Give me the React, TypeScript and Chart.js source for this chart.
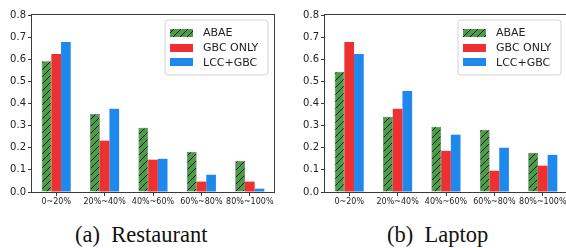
import React, { useEffect, useRef } from 'react';
import { Chart, registerables } from 'chart.js';

Chart.register(...registerables);

const categories = ['0~20%', '20%~40%', '40%~60%', '60%~80%', '80%~100%'];
const seriesLabels = ['ABAE', 'GBC ONLY', 'LCC+GBC'];
const yTickValues = [0, 0.1, 0.2, 0.3, 0.4, 0.5, 0.6, 0.7, 0.8];

const restaurantABAE = [0.591, 0.353, 0.29, 0.182, 0.141];
const restaurantGBC = [0.624, 0.232, 0.146, 0.047, 0.047];
const restaurantLCC = [0.678, 0.376, 0.15, 0.078, 0.015];

const laptopABAE = [0.543, 0.34, 0.295, 0.281, 0.177];
const laptopGBC = [0.678, 0.376, 0.186, 0.096, 0.119];
const laptopLCC = [0.624, 0.457, 0.259, 0.2, 0.168];

const GREEN = '#4a9e48';
const RED = '#ee3030';
const BLUE = '#1f88ec';
const FONT = 'DejaVu Sans';

function makeHatch(): CanvasPattern | string {
  const s = 7;
  const c = document.createElement('canvas');
  c.width = s;
  c.height = s;
  const g = c.getContext('2d');
  if (!g) return GREEN;
  g.fillStyle = GREEN;
  g.fillRect(0, 0, s, s);
  g.strokeStyle = '#111';
  g.lineWidth = 1;
  g.beginPath();
  g.moveTo(0, s);
  g.lineTo(s, 0);
  g.moveTo(-1, 1);
  g.lineTo(1, -1);
  g.moveTo(s - 1, s + 1);
  g.lineTo(s + 1, s - 1);
  g.stroke();
  return g.createPattern(c, 'repeat') || GREEN;
}

type PanelProps = {
  abae: number[];
  gbc: number[];
  lcc: number[];
  left: number;
  width: number;
  yAxisWidth: number;
  padRight: number;
};

function Panel({ abae, gbc, lcc, left, width, yAxisWidth, padRight }: PanelProps) {
  const ref = useRef<HTMLCanvasElement | null>(null);
  useEffect(() => {
    if (!ref.current) return;
    const hatch = makeHatch();
    const fills = [hatch, RED, BLUE];

    const framePlugin = {
      id: 'frame',
      afterDraw(chart: any) {
        const { ctx, chartArea: a } = chart;
        ctx.save();
        ctx.strokeStyle = '#3a3a3a';
        ctx.lineWidth = 1;
        const l = Math.round(a.left) - 0.5;
        const t = Math.round(a.top) - 0.5;
        const r = Math.round(a.right) + 0.5;
        const b = Math.round(a.bottom) + 0.5;
        ctx.strokeRect(l, t, r - l, b - t);

        // legend
        const bw = 103;
        const bh = 55;
        const bx = Math.round(a.right) - 6 - bw;
        const by = Math.round(a.top) + 5;
        ctx.beginPath();
        const rad = 3;
        ctx.moveTo(bx + rad, by);
        ctx.lineTo(bx + bw - rad, by);
        ctx.quadraticCurveTo(bx + bw, by, bx + bw, by + rad);
        ctx.lineTo(bx + bw, by + bh - rad);
        ctx.quadraticCurveTo(bx + bw, by + bh, bx + bw - rad, by + bh);
        ctx.lineTo(bx + rad, by + bh);
        ctx.quadraticCurveTo(bx, by + bh, bx, by + bh - rad);
        ctx.lineTo(bx, by + rad);
        ctx.quadraticCurveTo(bx, by, bx + rad, by);
        ctx.closePath();
        ctx.fillStyle = 'rgba(255,255,255,0.85)';
        ctx.fill();
        ctx.strokeStyle = '#d4d4d4';
        ctx.lineWidth = 1;
        ctx.stroke();

        ctx.font = `11px "${FONT}"`;
        ctx.textBaseline = 'middle';
        ctx.textAlign = 'left';
        seriesLabels.forEach((lab, i) => {
          const cy = by + 13 + i * 14.7;
          ctx.fillStyle = fills[i] as any;
          ctx.fillRect(bx + 5, Math.round(cy - 4), 23, 8);
          ctx.fillStyle = '#222';
          ctx.fillText(lab, bx + 38, cy + 0.5);
        });
        ctx.restore();
      },
    };

    const chart = new Chart(ref.current, {
      type: 'bar',
      data: {
        labels: categories,
        datasets: [
          { label: seriesLabels[0], data: abae, backgroundColor: hatch as any, borderColor: '#2b4a2a', borderWidth: 0.6 },
          { label: seriesLabels[1], data: gbc, backgroundColor: RED, borderWidth: 0 },
          { label: seriesLabels[2], data: lcc, backgroundColor: BLUE, borderWidth: 0 },
        ],
      },
      options: {
        responsive: false,
        animation: false,
        devicePixelRatio: 1,
        layout: { padding: { top: 15, right: padRight, left: 0, bottom: 0 } },
        datasets: { bar: { categoryPercentage: 0.6, barPercentage: 1 } },
        plugins: { legend: { display: false }, tooltip: { enabled: false } },
        scales: {
          x: {
            offset: true,
            grid: { display: true, drawOnChartArea: false, drawTicks: true, tickLength: 4, color: '#3a3a3a', offset: false },
            border: { display: false },
            ticks: { font: { family: FONT, size: 8 }, color: '#222', padding: 1, maxRotation: 0, autoSkip: false },
            afterFit: (s: any) => {
              s.height = 20;
            },
          },
          y: {
            min: 0,
            max: 0.8,
            afterBuildTicks: (s: any) => {
              s.ticks = yTickValues.map((v) => ({ value: v }));
            },
            grid: { drawOnChartArea: false, drawTicks: true, tickLength: 4, color: '#3a3a3a' },
            border: { display: false },
            ticks: {
              font: { family: FONT, size: 10 },
              color: '#222',
              padding: 2,
              callback: (v: any) => Number(v).toFixed(1),
            },
            afterFit: (s: any) => {
              s.width = yAxisWidth;
            },
          },
        },
      },
      plugins: [framePlugin],
    });
    return () => chart.destroy();
  }, [abae, gbc, lcc, yAxisWidth, padRight]);

  return (
    <canvas
      ref={ref}
      width={width}
      height={212}
      style={{ position: 'absolute', left, top: 0, width, height: 212 }}
    />
  );
}

const captionStyle: React.CSSProperties = {
  position: 'absolute',
  top: 224,
  fontFamily: '"Liberation Serif", "Times New Roman", serif',
  fontSize: 22.5,
  lineHeight: '22px',
  whiteSpace: 'pre',
  color: '#111',
};

export default function App() {
  return (
    <div
      style={{
        position: 'fixed',
        left: 0,
        top: 0,
        width: 566,
        height: 248,
        overflow: 'hidden',
        background: '#fff',
      }}
    >
      <Panel abae={restaurantABAE} gbc={restaurantGBC} lcc={restaurantLCC} left={0} width={283} yAxisWidth={32} padRight={9} />
      <Panel abae={laptopABAE} gbc={laptopGBC} lcc={laptopLCC} left={283} width={290} yAxisWidth={42} padRight={6} />
      <div style={{ ...captionStyle, left: 75 }}>{'(a)  Restaurant'}</div>
      <div style={{ ...captionStyle, left: 387 }}>{'(b)  Laptop'}</div>
    </div>
  );
}
